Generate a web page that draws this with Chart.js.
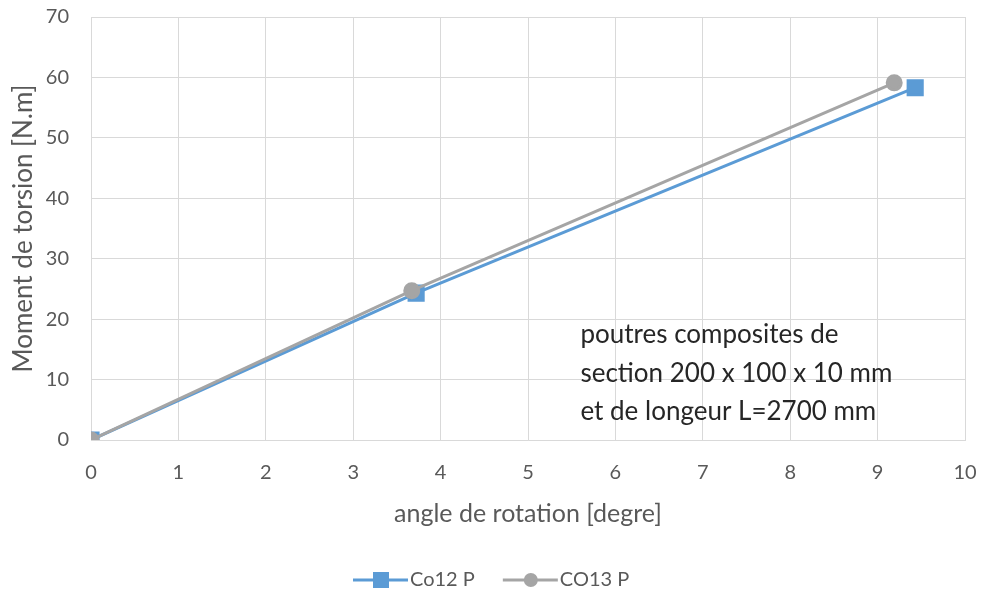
<!DOCTYPE html>
<html>
<head>
<meta charset="utf-8">
<script src="https://cdn.jsdelivr.net/npm/chart.js@4/dist/chart.umd.min.js"></script>
<style>
  html, body { margin: 0; padding: 0; background: #fff; }
  #wrap { width: 984px; height: 595px; }
</style>
</head>
<body>
<div id="wrap"><canvas id="chart" width="984" height="595"></canvas></div>
<script>
// values
const seriesNames = ['Co12 P', 'CO13 P'];
const co12X = [0, 3.72, 9.43];
const co12Y = [0, 24.3, 58.3];
const co13X = [0, 3.67, 9.19];
const co13Y = [0, 24.7, 59.1];
const noteLines = ['poutres composites de', 'section 200 x 100 x 10 mm', 'et de longeur L=2700 mm'];

const FONT = 'Lato, "Open Sans", sans-serif';
const BLUE = '#5B9BD5';
const GREY = '#A5A5A5';

const pts = (xs, ys) => xs.map((x, i) => ({ x: x, y: ys[i] }));

// note text + legend drawn on canvas
const extras = {
  id: 'extras',
  afterDraw(chart) {
    const ctx = chart.ctx;
    const xs = chart.scales.x, ys = chart.scales.y;
    ctx.save();
    ctx.fillStyle = '#262626';
    ctx.font = '26px ' + FONT;
    ctx.textBaseline = 'middle';
    const x0 = xs.getPixelForValue(5.6);
    noteLines.forEach((t, i) => ctx.fillText(t, x0, ys.getPixelForValue(17.4 - i * 6.35)));

    // legend
    const items = [
      { name: seriesNames[0], color: BLUE, style: 'rect' },
      { name: seriesNames[1], color: GREY, style: 'circle' }
    ];
    ctx.font = '20px ' + FONT;
    let lx = 353;
    const ly = 580;
    items.forEach(it => {
      ctx.strokeStyle = it.color;
      ctx.lineWidth = 3;
      ctx.beginPath();
      ctx.moveTo(lx, ly);
      ctx.lineTo(lx + 55, ly);
      ctx.stroke();
      ctx.fillStyle = it.color;
      if (it.style === 'rect') {
        ctx.fillRect(lx + 20, ly - 8, 16, 16);
      } else {
        ctx.beginPath();
        ctx.arc(lx + 28, ly, 7, 0, Math.PI * 2);
        ctx.fill();
      }
      ctx.fillStyle = '#595959';
      ctx.fillText(it.name, lx + 57, ly);
      lx += 57 + ctx.measureText(it.name).width + 28;
    });
    ctx.restore();
  }
};

new Chart(document.getElementById('chart'), {
  type: 'scatter',
  data: {
    datasets: [
      {
        label: seriesNames[0],
        data: pts(co12X, co12Y),
        showLine: true,
        borderColor: BLUE,
        backgroundColor: BLUE,
        borderWidth: 3,
        pointStyle: 'rect',
        pointRadius: 10,
        pointHoverRadius: 10,
        order: 2
      },
      {
        label: seriesNames[1],
        data: pts(co13X, co13Y),
        showLine: true,
        borderColor: GREY,
        backgroundColor: GREY,
        borderWidth: 3,
        pointStyle: 'circle',
        pointRadius: 7,
        pointHoverRadius: 7,
        order: 1
      }
    ]
  },
  options: {
    responsive: false,
    animation: false,
    layout: { padding: { top: 17, right: 19, left: 8, bottom: 66 } },
    plugins: {
      legend: { display: false },
      tooltip: { enabled: false }
    },
    scales: {
      x: {
        min: 0, max: 10,
        ticks: { stepSize: 1, color: '#595959', font: { family: FONT, size: 20 }, padding: 21 },
        grid: { color: '#D9D9D9', drawTicks: false },
        border: { color: '#D9D9D9' },
        title: { display: true, text: 'angle de rotation [degre]', color: '#595959', font: { family: FONT, size: 25 }, padding: 0 },
        afterFit(s) { s.height = 89; s.paddingLeft = 0; s.paddingRight = 0; }
      },
      y: {
        min: 0, max: 70,
        ticks: { stepSize: 10, color: '#595959', font: { family: FONT, size: 20 }, padding: 22 },
        grid: { color: '#D9D9D9', drawTicks: false },
        border: { color: '#D9D9D9' },
        title: { display: true, text: 'Moment de torsion [N.m]', color: '#595959', font: { family: FONT, size: 26 }, padding: 0 },
        afterFit(s) { s.width = 83; s.paddingTop = 0; s.paddingBottom = 0; }
      }
    }
  },
  plugins: [extras]
});
</script>
</body>
</html>
